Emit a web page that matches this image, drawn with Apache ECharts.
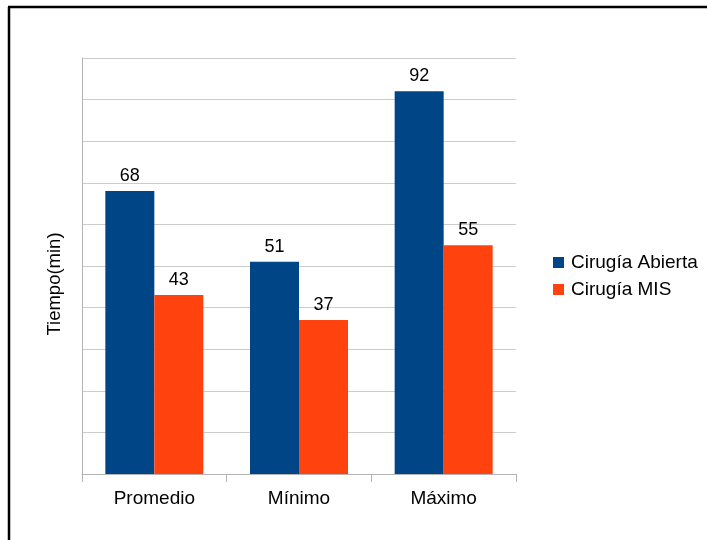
<!DOCTYPE html>
<html>
<head>
<meta charset="utf-8">
<script src="https://cdn.jsdelivr.net/npm/echarts@6/dist/echarts.min.js"></script>
<style>
  html, body { margin: 0; padding: 0; background: #fff; }
  #chart { width: 707px; height: 540px; }
</style>
</head>
<body>
<div id="chart"></div>
<script>
// Surgery time comparison (minutes)
const categories = ['Promedio', 'Mínimo', 'Máximo'];
const seriesNames = ['Cirugía Abierta', 'Cirugía MIS'];
const abierta = [68, 51, 92];
const mis = [43, 37, 55];
const seriesColors = ['#004586', '#ff420e'];

const chart = echarts.init(document.getElementById('chart'), null, { renderer: 'canvas' });
const font = 'Liberation Sans, Arial, sans-serif';

const labelStyle = {
  show: true,
  position: 'top',
  distance: 6,
  color: '#000',
  fontSize: 18,
  fontFamily: font
};

chart.setOption({
  animation: false,
  backgroundColor: '#fff',
  grid: { left: 82, top: 58, width: 434, height: 416, containLabel: false },
  legend: {
    orient: 'vertical',
    left: 548,
    top: 248,
    itemWidth: 11,
    itemHeight: 11,
    itemGap: 8,
    icon: 'rect',
    textStyle: { fontSize: 19, fontFamily: font, color: '#000', padding: [0, 0, 0, 2] },
    data: seriesNames
  },
  xAxis: {
    type: 'category',
    data: categories,
    axisLine: { lineStyle: { color: '#b3b3b3', width: 1 } },
    axisTick: { show: true, length: 8, lineStyle: { color: '#b3b3b3' } },
    axisLabel: { fontSize: 19, fontFamily: font, color: '#000', margin: 15 }
  },
  yAxis: {
    type: 'value',
    min: 0,
    max: 100,
    interval: 10,
    name: 'Tiempo(min)',
    nameLocation: 'middle',
    nameRotate: 90,
    nameGap: 18,
    nameTextStyle: { fontSize: 18.5, fontFamily: font, color: '#000', padding: [0, 0, 0, -36] },
    axisLine: { show: true, lineStyle: { color: '#b3b3b3' } },
    axisTick: { show: false },
    axisLabel: { show: false },
    splitLine: { show: true, lineStyle: { color: '#cccccc', width: 1 } }
  },
  series: [
    {
      name: seriesNames[0],
      type: 'bar',
      data: abierta,
      barWidth: 49,
      barGap: '0%',
      itemStyle: { color: seriesColors[0] },
      label: labelStyle
    },
    {
      name: seriesNames[1],
      type: 'bar',
      data: mis,
      barWidth: 49,
      barGap: '0%',
      itemStyle: { color: seriesColors[1] },
      label: labelStyle
    }
  ],
  graphic: [
    { type: 'line', shape: { x1: 9, y1: 7, x2: 9, y2: 540 }, style: { stroke: '#000', lineWidth: 2.5 } },
    { type: 'line', shape: { x1: 8, y1: 7, x2: 707, y2: 7 }, style: { stroke: '#000', lineWidth: 2.5 } }
  ]
});
</script>
</body>
</html>
